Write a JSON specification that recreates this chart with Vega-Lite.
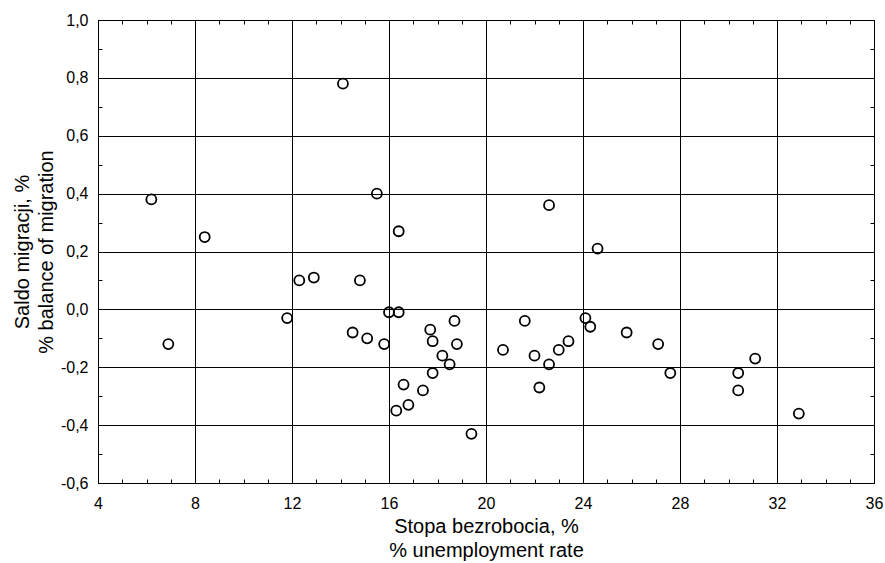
{
  "$schema": "https://vega.github.io/schema/vega-lite/v6.json",
  "autosize": "none",
  "width": 776,
  "height": 463,
  "padding": {"left": 98, "top": 20, "right": 11, "bottom": 80},
  "background": "white",
  "config": {
    "view": {"stroke": "black", "strokeWidth": 1},
    "font": "Liberation Sans",
    "axis": {
      "labelFont": "Liberation Sans",
      "titleFont": "Liberation Sans",
      "labelColor": "black",
      "titleColor": "black",
      "domainColor": "black",
      "tickColor": "black",
      "gridColor": "black",
      "labelFontSize": 16,
      "titleFontSize": 20,
      "titleFontWeight": "normal",
      "titleLineHeight": 24
    }
  },
  "data": {
    "values": [
      {"u": 14.1, "m": 0.78}, {"u": 6.2, "m": 0.38}, {"u": 8.4, "m": 0.25}, {"u": 15.5, "m": 0.40},
      {"u": 16.4, "m": 0.27}, {"u": 22.6, "m": 0.36}, {"u": 24.6, "m": 0.21}, {"u": 12.3, "m": 0.10},
      {"u": 12.9, "m": 0.11}, {"u": 14.8, "m": 0.10}, {"u": 11.8, "m": -0.03}, {"u": 6.9, "m": -0.12},
      {"u": 16.0, "m": -0.01}, {"u": 16.4, "m": -0.01}, {"u": 14.5, "m": -0.08}, {"u": 15.1, "m": -0.10},
      {"u": 15.8, "m": -0.12}, {"u": 17.7, "m": -0.07}, {"u": 17.8, "m": -0.11}, {"u": 18.7, "m": -0.04},
      {"u": 18.8, "m": -0.12}, {"u": 18.2, "m": -0.16}, {"u": 18.5, "m": -0.19}, {"u": 17.8, "m": -0.22},
      {"u": 16.6, "m": -0.26}, {"u": 17.4, "m": -0.28}, {"u": 16.8, "m": -0.33}, {"u": 16.3, "m": -0.35},
      {"u": 19.4, "m": -0.43}, {"u": 20.7, "m": -0.14}, {"u": 21.6, "m": -0.04}, {"u": 22.0, "m": -0.16},
      {"u": 22.2, "m": -0.27}, {"u": 22.6, "m": -0.19}, {"u": 23.0, "m": -0.14}, {"u": 23.4, "m": -0.11},
      {"u": 24.1, "m": -0.03}, {"u": 24.3, "m": -0.06}, {"u": 25.8, "m": -0.08}, {"u": 27.1, "m": -0.12},
      {"u": 27.6, "m": -0.22}, {"u": 30.4, "m": -0.22}, {"u": 30.4, "m": -0.28}, {"u": 31.1, "m": -0.17},
      {"u": 32.9, "m": -0.36}
    ]
  },
  "layer": [
    {
      "mark": {"type": "point", "shape": "circle", "filled": false, "color": "black", "strokeWidth": 1.8, "size": 100, "opacity": 1},
      "encoding": {
        "x": {
          "field": "u", "type": "quantitative",
          "scale": {"domain": [4, 36], "nice": false, "zero": false},
          "axis": {
            "orient": "bottom",
            "values": [4,5,6,7,8,9,10,11,12,13,14,15,16,17,18,19,20,21,22,23,24,25,26,27,28,29,30,31,32,33,34,35,36],
            "labelExpr": "datum.value % 4 === 0 ? datum.label : ''",
            "tickSize": -4,
            "labelPadding": 16,
            "grid": true,
            "gridOpacity": {"condition": {"test": "datum.value % 4 === 0", "value": 1}, "value": 0},
            "labelFlush": false,
            "labelOverlap": false,
            "title": ["Stopa bezrobocia, %", "% unemployment rate"],
            "titlePadding": 5
          }
        },
        "y": {
          "field": "m", "type": "quantitative",
          "scale": {"domain": [-0.6, 1.0], "nice": false, "zero": false},
          "axis": {
            "orient": "left",
            "values": [-0.6,-0.5,-0.4,-0.3,-0.2,-0.1,0,0.1,0.2,0.3,0.4,0.5,0.6,0.7,0.8,0.9,1.0],
            "labelExpr": "round(datum.value*10) % 2 === 0 ? (datum.value < -0.001 ? '-' : '') + replace(format(abs(datum.value), '.1f'), '.', ',') : ''",
            "tickSize": -4,
            "labelPadding": 14,
            "grid": true,
            "gridOpacity": {"condition": {"test": "round(datum.value*10) % 2 === 0", "value": 1}, "value": 0},
            "labelFlush": false,
            "labelOverlap": false,
            "title": ["Saldo migracji, %", "% balance of migration"],
            "titlePadding": 4
          }
        }
      }
    },
    {
      "mark": {"type": "point", "opacity": 0},
      "encoding": {
        "x": {
          "field": "u", "type": "quantitative",
          "scale": {"domain": [4, 36], "nice": false, "zero": false},
          "axis": {
            "orient": "top",
            "values": [4,5,6,7,8,9,10,11,12,13,14,15,16,17,18,19,20,21,22,23,24,25,26,27,28,29,30,31,32,33,34,35,36],
            "labels": false, "tickSize": -4, "grid": false, "title": null
          }
        },
        "y": {
          "field": "m", "type": "quantitative",
          "scale": {"domain": [-0.6, 1.0], "nice": false, "zero": false},
          "axis": {
            "orient": "right",
            "values": [-0.6,-0.5,-0.4,-0.3,-0.2,-0.1,0,0.1,0.2,0.3,0.4,0.5,0.6,0.7,0.8,0.9,1.0],
            "labels": false, "tickSize": -4, "grid": false, "title": null
          }
        }
      }
    }
  ],
  "resolve": {"axis": {"x": "independent", "y": "independent"}}
}
